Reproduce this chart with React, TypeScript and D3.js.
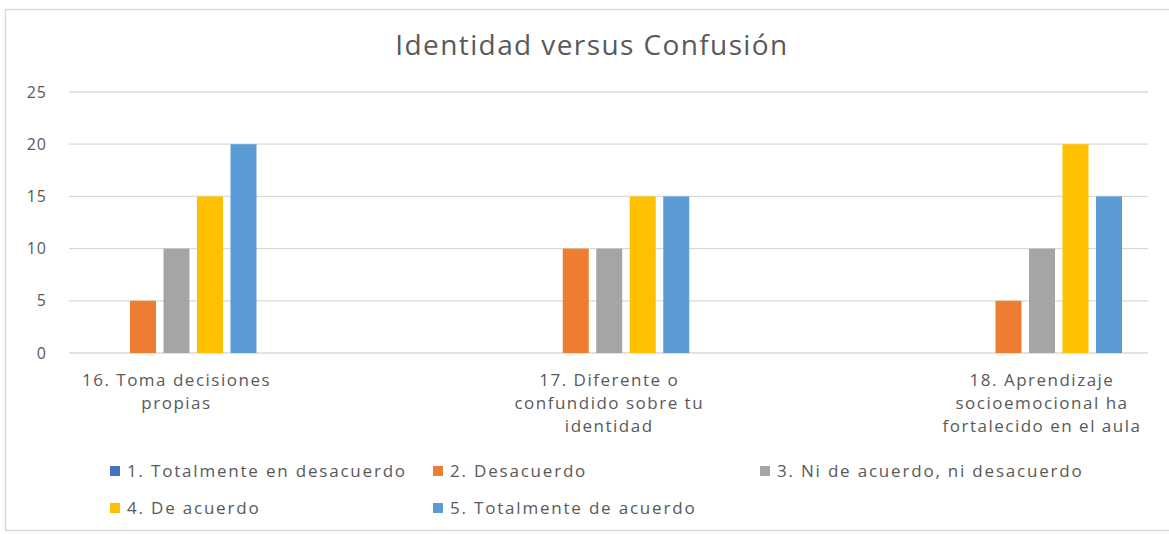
import React from 'react';
import * as d3 from 'd3';

// chart data
const categories = ['16', '17', '18'];
const categoryLabels = [
  ['16. Toma decisiones', 'propias'],
  ['17. Diferente o', 'confundido sobre tu', 'identidad'],
  ['18. Aprendizaje', 'socioemocional ha', 'fortalecido en el aula'],
];
const seriesNames = [
  '1. Totalmente en desacuerdo',
  '2. Desacuerdo',
  '3. Ni de acuerdo, ni desacuerdo',
  '4. De acuerdo',
  '5. Totalmente de acuerdo',
];
const totalDesacuerdo = [0, 0, 0];
const desacuerdo = [5, 10, 5];
const niNi = [10, 10, 10];
const deAcuerdo = [15, 15, 20];
const totalAcuerdo = [20, 15, 15];
const seriesValues = [totalDesacuerdo, desacuerdo, niNi, deAcuerdo, totalAcuerdo];
const seriesColors = ['#4472C4', '#ED7D31', '#A5A5A5', '#FFC000', '#5B9BD5'];
const yTicks = [0, 5, 10, 15, 20, 25];

const W = 1169;
const H = 534;
const plot = { left: 69, right: 1148, top: 92, bottom: 353 };
const font = '"Open Sans", "DejaVu Sans", sans-serif';
const textColor = '#595959';

const App = () => {
  const y = d3.scaleLinear().domain([0, 25]).range([plot.bottom, plot.top]);
  const x = d3.scalePoint().domain(categories).range([176.5, 1042]);
  const inner = d3.scaleBand<number>()
    .domain(d3.range(seriesNames.length))
    .range([-83.75, 83.75])
    .paddingInner(0.224)
    .paddingOuter(0.112);

  // legend layout: 3 columns, 2 rows
  const legendCols = [110, 433, 760];
  const legendRows = [471, 508];

  return (
    <div style={{ position: 'absolute', left: 0, top: 0 }}>
      <svg width={W} height={H} style={{ display: 'block', background: '#fff' }}>
        <rect x={5.5} y={9.5} width={W + 10} height={521} fill="none" stroke="#d9d9d9" strokeWidth={1.5} />

        <text x={592} y={55} textAnchor="middle" fontFamily={font} fontSize={28}
          fill={textColor} letterSpacing={1.4}>
          Identidad versus Confusión
        </text>

        {/* gridlines and y labels */}
        {yTicks.map(t => (
          <g key={t}>
            <line x1={plot.left} x2={plot.right} y1={y(t)} y2={y(t)} stroke="#d9d9d9" strokeWidth={1.3} />
            <text x={47} y={y(t)} dy="0.35em" textAnchor="end" fontFamily={font}
              fontSize={16} letterSpacing={1} fill={textColor}>{t}</text>
          </g>
        ))}

        {/* bars */}
        {seriesValues.map((vals, si) => (
          <g key={si}>
            {vals.map((v, ci) => (
              <rect key={ci}
                x={(x(categories[ci]) as number) + (inner(si) as number)}
                y={y(v)}
                width={inner.bandwidth()}
                height={y(0) - y(v)}
                fill={seriesColors[si]} />
            ))}
          </g>
        ))}

        {/* category labels */}
        {categoryLabels.map((lines, ci) => (
          <text key={ci} textAnchor="middle" fontFamily={font} fontSize={17}
            letterSpacing={1.5} fill={textColor}>
            {lines.map((ln, li) => (
              <tspan key={li} x={x(categories[ci])} y={386 + li * 23}>{ln}</tspan>
            ))}
          </text>
        ))}

        {/* legend */}
        {seriesNames.map((name, i) => {
          const lx = legendCols[i % 3];
          const ly = legendRows[Math.floor(i / 3)];
          return (
            <g key={name}>
              <rect x={lx} y={ly - 5} width={10} height={10} fill={seriesColors[i]} />
              <text x={lx + 17} y={ly} dy="0.35em" fontFamily={font} fontSize={17}
                letterSpacing={1.8} fill={textColor}>{name}</text>
            </g>
          );
        })}
      </svg>
    </div>
  );
};

export default App;
